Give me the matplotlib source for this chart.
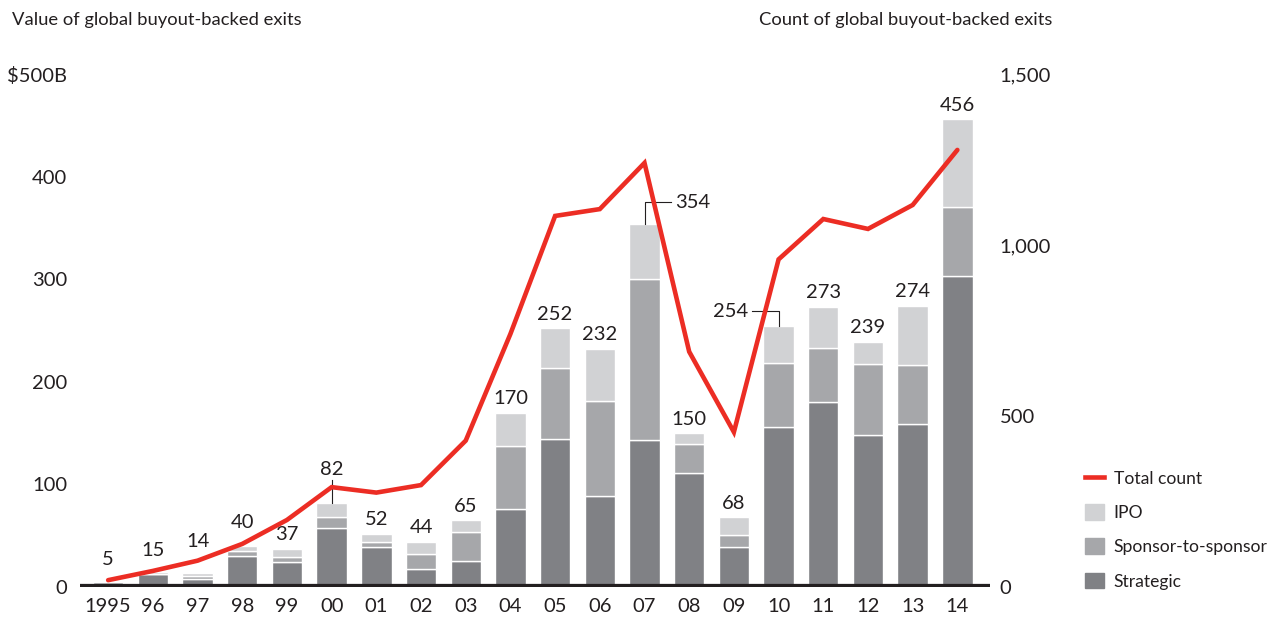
import numpy as np
import matplotlib
matplotlib.use("Agg")
import matplotlib.pyplot as plt
from matplotlib.patches import Patch
from matplotlib.lines import Line2D

plt.rcParams['font.family'] = ['Lato', 'DejaVu Sans']

years = ['1995', '96', '97', '98', '99', '00', '01', '02', '03', '04',
         '05', '06', '07', '08', '09', '10', '11', '12', '13', '14']
# value of exits, $B
strategic = [5, 12.5, 8, 30.7, 24.6, 57.5, 39, 17.5, 25, 76,
             144.5, 89, 143.5, 111, 39, 155.5, 180, 148, 158.5, 303.5]
sponsor = [0, 0.5, 3, 4.5, 4.9, 10.5, 4.5, 15, 29, 61,
           68.5, 92, 157, 28.5, 12, 62.5, 53, 69, 57.5, 66.5]
ipo = [0, 2, 3, 4.8, 7.5, 14, 8.5, 11.5, 11, 33,
       39, 51, 53.5, 10.5, 17, 36, 40, 22, 58, 86]
totals = [5, 15, 14, 40, 37, 82, 52, 44, 65, 170,
          252, 232, 354, 150, 68, 254, 273, 239, 274, 456]
# count of exits
count = [20, 47, 77, 126, 196, 292, 276, 298, 428, 740,
         1085, 1105, 1240, 688, 453, 958, 1076, 1047, 1117, 1278]

c_strat = '#808185'
c_spon = '#a6a7aa'
c_ipo = '#d1d2d4'
c_red = '#ec2d24'
c_text = '#231f20'
fs = 14.5

fig = plt.figure(figsize=(12.7, 6.17), dpi=100)
ax = fig.add_axes([80/1270, 1-587/617, 910/1270, 513/617])
x = np.arange(len(years))
w = 0.68

strat = np.array(strategic)
spon = np.array(sponsor)
ip = np.array(ipo)
ax.bar(x, strat, w, color=c_strat, edgecolor='white', linewidth=1, zorder=2)
ax.bar(x, spon, w, bottom=strat, color=c_spon, edgecolor='white', linewidth=1, zorder=2)
ax.bar(x, ip, w, bottom=strat+spon, color=c_ipo, edgecolor='white', linewidth=1, zorder=2)
ax.axhline(0, color=c_text, lw=4.5, zorder=5)

ax.set_xlim(-0.63, 19.73)
ax.set_ylim(0, 500)
ax.set_yticks([0, 100, 200, 300, 400, 500])
ax.set_yticklabels(['0', '100', '200', '300', '400', '$500B'])
ax.set_xticks(x)
ax.set_xticklabels(years)
ax.tick_params(axis='y', length=0, pad=9, labelsize=fs, labelcolor=c_text)
ax.tick_params(axis='x', length=0, pad=8, labelsize=fs, labelcolor=c_text)
for s in ax.spines.values():
    s.set_visible(False)

# total labels (early ones lifted clear of the red line)
lift = {0: 10, 1: 9, 2: 16, 3: 11}
for i, t in enumerate(totals):
    if i in (5, 12, 15):
        continue
    ax.annotate(str(t), (i, t), xytext=(0, lift.get(i, 4)), textcoords='offset points',
                ha='center', va='bottom', fontsize=fs, color=c_text)

# 2000 label with vertical leader
ax.plot([5, 5], [totals[5], totals[5] + 22], color=c_text, lw=0.8, zorder=6)
ax.text(5, totals[5] + 24, str(totals[5]), ha='center', va='bottom', fontsize=fs, color=c_text)
# 2007 label with bracket leader
ax.plot([12, 12, 12.6], [totals[12], totals[12] + 21, totals[12] + 21], color=c_text, lw=0.8, zorder=6)
ax.text(12.68, totals[12] + 21, str(totals[12]), ha='left', va='center', fontsize=fs, color=c_text)
# 2010 label with bracket leader
ax.plot([15, 15, 14.4], [totals[15], totals[15] + 15, totals[15] + 15], color=c_text, lw=0.8, zorder=6)
ax.text(14.32, totals[15] + 15, str(totals[15]), ha='right', va='center', fontsize=fs, color=c_text)

ax2 = ax.twinx()
ax2.set_ylim(0, 1500)
ax2.plot(x, count, color=c_red, lw=3.3, solid_joinstyle='miter', solid_capstyle='round', zorder=4)
ax2.set_yticks([0, 500, 1000, 1500])
ax2.set_yticklabels(['0', '500', '1,000', '1,500'])
ax2.tick_params(axis='y', length=0, pad=7, labelsize=fs, labelcolor=c_text)
for s in ax2.spines.values():
    s.set_visible(False)

fig.text(12/1270, 1-20/617, 'Value of global buyout-backed exits', ha='left', va='center',
         fontsize=13.2, color=c_text)
fig.text(1052/1270, 1-20/617, 'Count of global buyout-backed exits', ha='right', va='center',
         fontsize=13.2, color=c_text)

handles = [Line2D([], [], color=c_red, lw=3.3),
           Patch(color=c_ipo), Patch(color=c_spon), Patch(color=c_strat)]
labels = ['Total count', 'IPO', 'Sponsor-to-sponsor', 'Strategic']
fig.legend(handles, labels, loc='upper left', bbox_to_anchor=(1076/1270, 1-461/617),
           frameon=False, fontsize=12.6, handlelength=1.1, handleheight=1.0,
           labelspacing=1.0, handletextpad=0.55, borderpad=0, labelcolor=c_text)

fig.savefig('out.png', dpi=100)
